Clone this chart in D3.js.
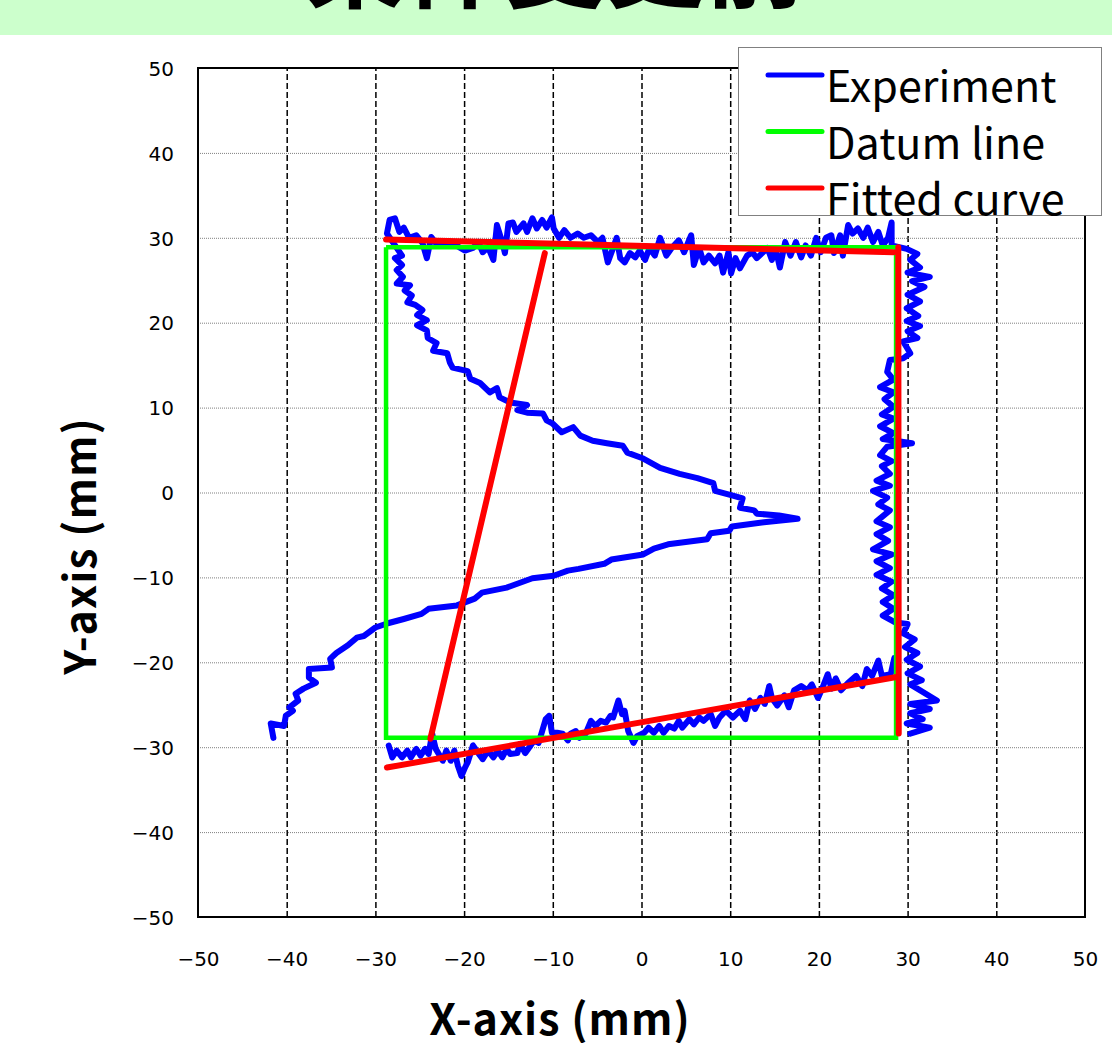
<!DOCTYPE html>
<html>
<head>
<meta charset="utf-8">
<script src="https://cdn.jsdelivr.net/npm/d3@7"></script>
<style>
body { margin:0; background:#ffffff; }
svg { display:block; }
</style>
</head>
<body>
<svg id="chart" width="1112" height="1043"></svg>
<script>
var title_text = "条件変更前";
var x_title = "X-axis (mm)";
var y_title = "Y-axis (mm)";
var tick_values = [-50, -40, -30, -20, -10, 0, 10, 20, 30, 40, 50];
var grid_values = [-40, -30, -20, -10, 0, 10, 20, 30, 40];
var legend_names = ["Experiment", "Datum line", "Fitted curve"];
var legend_colors = ["#0000ff", "#00ff00", "#ff0000"];

// measured trace: lower-left diagonal, the Z, top edge, right edge
var exp_path1 = [
  [-41.5,-28.9],[-41.8,-27.2],[-40.3,-27.5],[-40.1,-26.3],[-39.3,-25.7],[-39.7,-25.3],[-38.7,-24.5],[-39.0,-23.7],
  [-38.1,-23.1],[-36.7,-22.4],[-37.5,-21.8],[-37.5,-20.8],[-34.9,-20.6],[-35.1,-19.6],[-34.4,-18.9],[-33.1,-18.0],
  [-32.1,-17.1],[-31.3,-16.9],[-30.0,-15.9],[-28.6,-15.4],[-26.8,-14.9],[-24.8,-14.3],[-24.0,-13.7],[-20.8,-13.3],
  [-18.8,-12.5],[-18.0,-11.8],[-15.2,-11.2],[-12.3,-10.1],[-9.9,-9.8],[-8.3,-9.2],[-7.1,-9.0],[-4.2,-8.4],
  [-3.4,-7.9],[0.2,-7.3],[1.4,-6.6],[3.0,-6.1],[7.4,-5.5],[7.8,-4.8],[9.9,-4.5],[10.2,-4.0],[13.8,-3.5],[17.6,-3.1],
  [15.5,-2.7],[13.0,-2.5],[12.7,-2.1],[11.1,-1.8],[11.4,-0.7],[10.1,-0.3],[8.3,0.2],[8.1,1.1],[6.3,1.7],[4.3,2.2],
  [2.1,2.9],[0.2,4.0],[-1.6,4.7],[-2.1,5.5],[-3.9,5.8],[-5.5,6.1],[-6.9,6.7],[-7.7,7.7],[-9.0,7.1],[-10.0,8.1],
  [-10.7,8.5],[-11.1,9.3],[-12.9,9.4],[-14.0,9.7],[-12.9,10.3],[-14.8,10.6],[-16.0,11.2],[-16.3,12.3],[-17.1,11.8],
  [-18.2,12.9],[-19.3,13.4],[-19.6,14.3],[-21.3,14.7],[-21.6,15.3],[-21.9,16.4],[-23.5,16.7],[-23.1,17.6],
  [-24.1,18.2],[-24.2,19.1],[-25.3,19.7],[-24.2,20.3],[-25.3,20.9],[-24.7,21.5],[-25.5,22.1],[-26.4,22.4],
  [-25.9,23.2],[-26.7,23.8],[-26.1,24.4],[-27.6,24.6],[-26.9,25.4],[-27.6,26.2],[-27.0,26.8],[-27.8,27.6],[-27.0,27.9],
  [-28.7,30.5],[-28.4,32.1],[-27.8,32.3],[-27.3,30.7],[-26.8,31.2],[-26.2,30.0],[-25.4,30.3],[-24.7,29.4],[-24.2,27.6],
  [-23.7,30.1],[-23.2,29.4],[-22.1,29.5],[-20.9,29.1],[-19.9,28.5],[-19.0,28.8],[-18.4,29.5],[-17.9,28.3],[-17.3,28.9],
  [-16.7,27.4],[-16.3,31.5],[-15.7,29.5],[-15.4,28.2],[-15.0,31.7],[-14.5,31.8],[-14.1,30.7],[-13.3,31.7],[-12.9,30.7],
  [-12.3,32.3],[-11.8,31.1],[-11.2,32.1],[-10.7,31.2],[-10.1,32.4],[-9.9,31.1],[-9.3,30.0],[-8.7,30.9],[-8.0,30.0],
  [-7.2,30.5],[-6.5,30.0],[-5.7,30.3],[-4.9,29.5],[-4.4,30.0],[-3.8,27.1],[-3.2,28.8],[-2.8,30.0],[-2.4,27.6],
  [-1.9,27.1],[-1.3,28.2],[-0.7,27.7],[-0.2,28.5],[0.4,27.4],[0.9,28.8],[1.5,27.9],[2.1,30.0],[2.8,27.9],[3.4,28.8],
  [4.2,29.7],[4.8,28.3],[5.6,30.3],[5.9,26.8],[6.5,28.8],[7.0,27.1],[7.6,27.9],[8.3,27.0],[8.8,27.9],[9.2,25.9],
  [9.8,28.3],[10.1,25.8],[10.6,27.6],[11.1,26.4],[11.9,27.9],[12.5,28.3],[13.0,27.6],[13.6,28.2],[14.2,28.8],
  [14.7,27.4],[15.1,28.8],[15.6,26.5],[16.2,29.5],[16.8,27.9],[17.4,29.5],[18.0,27.7],[18.5,29.1],[19.1,27.9],
  [19.7,30.0],[20.2,28.3],[20.8,30.0],[21.4,30.3],[21.7,28.2],[22.4,30.3],[22.7,27.9],[23.3,31.5],[23.8,30.5],
  [24.4,31.1],[25.0,30.0],[25.5,31.2],[26.1,29.5],[26.7,30.7],[27.2,29.1],[27.8,30.0],[28.2,31.8],[28.2,29.1],
  [29.9,28.7],[31.1,28.1],[30.3,27.4],[31.4,26.5],[30.0,25.9],[32.5,25.4],[30.5,24.9],[31.9,24.2],[30.0,23.3],
  [31.4,22.5],[29.9,21.7],[31.2,20.8],[29.9,20.2],[31.4,19.6],[30.0,19.0],[31.1,18.2],[29.5,17.8],[30.3,16.4],
  [29.5,15.8],[28.0,15.6],[27.7,14.2],[28.4,13.3],[26.9,12.4],[28.4,11.8],[27.4,11.0],[28.4,10.1],[27.1,9.2],
  [28.4,8.7],[26.9,7.8],[28.4,7.0],[27.2,6.3],[30.5,5.8],[27.7,5.4],[26.9,4.4],[28.2,3.7],[27.1,3.1],[28.0,2.2],
  [26.5,1.4],[28.0,0.8],[26.1,0.2],[27.7,-0.6],[26.7,-1.4],[28.0,-2.1],[26.5,-3.4],[28.0,-4.1],[26.5,-4.9],
  [27.8,-5.7],[26.1,-6.7],[28.2,-7.3],[26.5,-8.1],[28.0,-8.9],[26.5,-9.7],[28.2,-10.5],[27.1,-11.3],[28.4,-12.1],
  [27.2,-12.9],[28.4,-13.7],[27.2,-14.5],[28.6,-15.3],[30.0,-15.5],[29.5,-16.6],[30.8,-17.3],[29.7,-18.2],
  [31.1,-18.9],[29.9,-19.7],[31.4,-20.5],[30.0,-21.3],[31.6,-22.1],[30.3,-22.6],[33.3,-24.5],[30.3,-24.9],
  [32.5,-25.5],[30.3,-26.0],[31.7,-26.7],[29.9,-27.2],[32.5,-27.7],[30.3,-28.4]
];

// measured trace: bottom edge, right to left
var exp_path2 = [
  [28.5,-19.5],[28.1,-21.4],[27.1,-21.6],[26.7,-19.8],[26.0,-21.6],[25.4,-20.8],[24.9,-22.8],[24.2,-21.6],
  [23.3,-22.4],[22.5,-23.3],[21.9,-21.9],[21.4,-23.1],[21.0,-21.4],[20.4,-23.0],[19.9,-24.2],[19.2,-22.6],
  [18.7,-23.3],[18.0,-22.8],[17.2,-23.3],[16.6,-25.3],[16.1,-23.9],[15.3,-25.1],[14.7,-24.2],[14.4,-22.8],
  [13.9,-24.9],[13.4,-24.2],[12.8,-25.5],[12.2,-24.5],[11.7,-26.7],[11.1,-25.7],[10.3,-26.5],[9.5,-25.7],
  [8.8,-26.5],[8.3,-27.5],[7.8,-26.1],[7.0,-26.9],[6.5,-26.5],[5.9,-27.3],[5.4,-26.7],[4.6,-27.7],[4.2,-26.9],
  [3.7,-27.8],[3.1,-27.5],[2.5,-28.3],[2.0,-27.5],[1.4,-28.3],[0.8,-27.7],[0.3,-28.3],[-0.5,-28.7],[-0.9,-29.5],
  [-1.5,-28.1],[-1.9,-25.7],[-2.2,-26.1],[-2.6,-24.5],[-3.2,-26.5],[-3.5,-26.3],[-4.0,-27.1],[-4.6,-26.9],
  [-5.2,-27.5],[-5.7,-26.9],[-6.3,-28.4],[-7.0,-28.9],[-7.4,-28.1],[-8.0,-28.4],[-8.3,-29.2],[-8.9,-28.4],
  [-9.5,-28.3],[-10.1,-28.3],[-10.4,-26.3],[-10.8,-26.7],[-11.2,-28.1],[-11.6,-29.5],[-12.1,-29.2],[-12.7,-30.1],
  [-13.1,-30.7],[-13.7,-29.6],[-14.0,-30.7],[-14.8,-30.8],[-15.2,-30.2],[-15.7,-31.2],[-16.2,-30.4],[-16.7,-31.2],
  [-17.3,-30.4],[-17.9,-31.4],[-18.4,-30.7],[-19.0,-29.8],[-19.6,-31.8],[-19.9,-32.4],[-20.3,-33.4],[-20.7,-32.2],
  [-21.1,-30.4],[-21.5,-31.6],[-22.0,-30.4],[-22.4,-31.6],[-23.2,-30.2],[-23.6,-28.4],[-24.0,-30.8],[-24.4,-30.2],
  [-24.9,-31.0],[-25.4,-30.2],[-26.0,-31.2],[-26.4,-30.4],[-27.0,-31.2],[-27.6,-30.4],[-28.1,-31.2],[-28.5,-29.8]
];

// datum square
var datum_line = [[-28.8,28.9],[28.7,28.9],[28.7,-28.9],[-28.8,-28.9],[-28.8,28.9]];

// fitted lines, each a pair of end points
var fit_top = [[-28.8,29.8],[28.4,28.3]];
var fit_right = [[28.95,28.9],[29.0,-28.4]];
var fit_bottom = [[-28.7,-32.4],[28.9,-21.7]];
var fit_diag = [[-23.8,-29.0],[-10.9,28.2]];

var svg = d3.select("#chart");
var plot_left = 198, plot_right = 1085, plot_top = 68, plot_bottom = 917;
var jp_font = "'Noto Sans CJK JP', 'Noto Sans', sans-serif";

var x = d3.scaleLinear().domain([-50, 50]).range([plot_left, plot_right]);
var y = d3.scaleLinear().domain([-50, 50]).range([plot_bottom, plot_top]);

// green title band with the cut-off heading
svg.append("rect").attr("x",0).attr("y",0).attr("width",1112).attr("height",35).style("fill","#ccffcc");
svg.append("text").attr("x",555).attr("y",0).attr("text-anchor","middle")
  .style("font-family",jp_font).style("font-weight","bold").style("font-size","100px")
  .text(title_text);

// vertical dashed grid
var vgrid = svg.append("g").attr("transform","translate(0,"+plot_bottom+")")
  .call(d3.axisBottom(x).tickValues(grid_values).tickSize(-(plot_bottom-plot_top)).tickFormat(""));
vgrid.select(".domain").remove();
vgrid.selectAll("line").style("stroke","#000").style("stroke-width",1.5).style("stroke-dasharray","6,3");

// horizontal dotted grid
var hgrid = svg.append("g").attr("transform","translate("+plot_left+",0)")
  .call(d3.axisLeft(y).tickValues(grid_values).tickSize(-(plot_right-plot_left)).tickFormat(""));
hgrid.select(".domain").remove();
hgrid.selectAll("line").style("stroke","#808080").style("stroke-width",1).style("stroke-dasharray","1,1");

// tick labels
var xax = svg.append("g").attr("transform","translate(0,"+plot_bottom+")")
  .call(d3.axisBottom(x).tickValues(tick_values).tickSize(0));
xax.select(".domain").remove();
xax.selectAll("text").attr("y",42).attr("dy","0.35em")
  .style("font-family","'DejaVu Sans', sans-serif").style("font-size","20px").style("fill","#000");

var yax = svg.append("g").attr("transform","translate("+plot_left+",0)")
  .call(d3.axisLeft(y).tickValues(tick_values).tickSize(0).tickPadding(24));
yax.select(".domain").remove();
yax.selectAll("text").attr("dy","0.36em")
  .style("font-family","'DejaVu Sans', sans-serif").style("font-size","20px").style("fill","#000");

// plot frame
svg.append("rect").attr("x",plot_left).attr("y",plot_top)
  .attr("width",plot_right-plot_left).attr("height",plot_bottom-plot_top)
  .style("fill","none").style("stroke","#000").style("stroke-width",2);

var line = d3.line().x(function(d){ return x(d[0]); }).y(function(d){ return y(d[1]); });

// experiment trace
svg.selectAll(".exp").data([exp_path1, exp_path2]).enter().append("path").attr("class","exp")
  .attr("d", line).style("fill","none").style("stroke","#0000ff").style("stroke-width",6)
  .style("stroke-linejoin","round").style("stroke-linecap","round");

// datum line
svg.append("path").attr("d", line(datum_line)).style("fill","none").style("stroke","#00ff00")
  .style("stroke-width",4.5).style("stroke-linejoin","miter");

// fitted lines
svg.selectAll(".fit").data([fit_top, fit_right, fit_bottom, fit_diag]).enter().append("path").attr("class","fit")
  .attr("d", line).style("fill","none").style("stroke","#ff0000").style("stroke-width",6)
  .style("stroke-linecap","round");

// axis titles
svg.append("text").attr("x",560).attr("y",1035).attr("text-anchor","middle")
  .style("font-family",jp_font).style("font-size","43px").style("font-weight","bold")
  .style("letter-spacing","1px").text(x_title);
svg.append("text").attr("transform","translate(96,546)rotate(-90)").attr("text-anchor","middle")
  .style("font-family",jp_font).style("font-size","43px").style("font-weight","bold")
  .style("letter-spacing","1px").text(y_title);

// legend
var leg = svg.append("g");
leg.append("rect").attr("x",738.5).attr("y",47.5).attr("width",363).attr("height",168)
  .style("fill","#fff").style("stroke","#808080").style("stroke-width",1);
var legRow = leg.selectAll(".legrow").data(legend_names).enter().append("g").attr("class","legrow")
  .attr("transform",function(d,i){ return "translate(0,"+(75 + i*56.5)+")"; });
legRow.append("line").attr("x1",768).attr("x2",822).attr("y1",0).attr("y2",0)
  .style("stroke",function(d,i){ return legend_colors[i]; }).style("stroke-width",5).style("stroke-linecap","round");
legRow.append("text").attr("x",826).attr("y",27).text(function(d){ return d; })
  .style("font-family",jp_font).style("font-size","43px").style("fill","#000");
</script>
</body>
</html>
